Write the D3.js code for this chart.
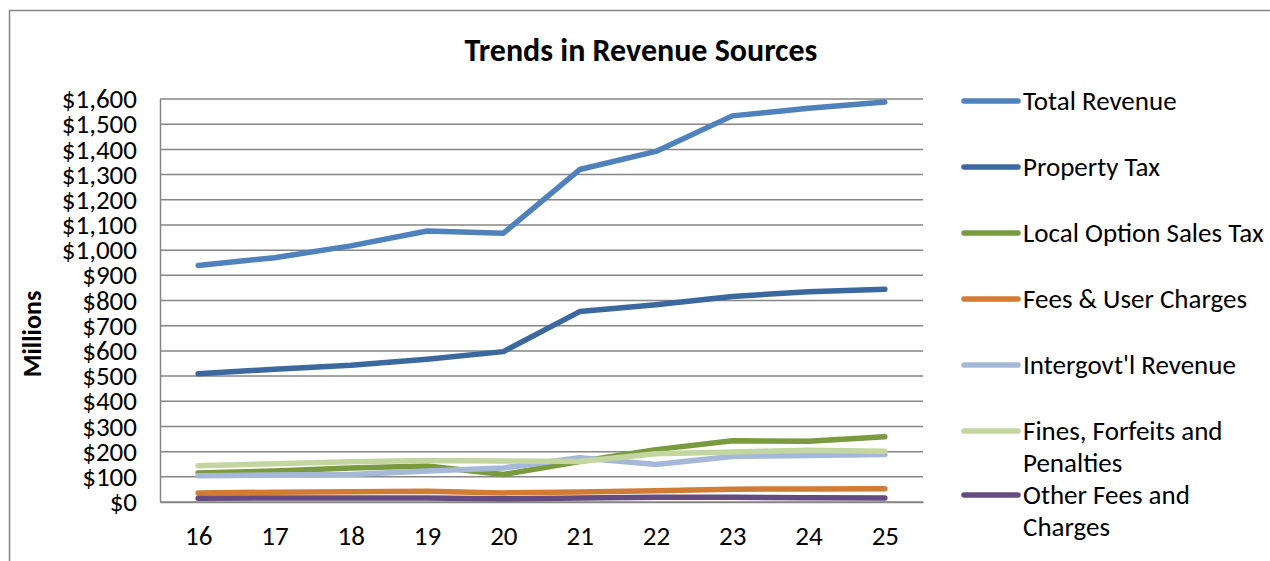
<!DOCTYPE html>
<html>
<head>
<meta charset="utf-8">
<script src="https://cdn.jsdelivr.net/npm/d3@7"></script>
<style>
  body { margin: 0; background: #fff; }
  text { font-family: Calibri, Carlito, "Noto Sans", sans-serif; fill: #000; }
</style>
</head>
<body>
<div id="chart"></div>
<script>
// chart data
var years = ["16", "17", "18", "19", "20", "21", "22", "23", "24", "25"];
var seriesNames = ["Total Revenue", "Property Tax", "Local Option Sales Tax", "Fees & User Charges",
  "Intergovt'l Revenue", "Fines, Forfeits and Penalties", "Other Fees and Charges"];
var totalRevenue = [939, 970, 1017, 1076, 1067, 1320, 1392, 1533, 1563, 1588];
var propertyTax = [509, 527, 543, 567, 597, 756, 783, 816, 835, 845];
var salesTax = [115, 123, 135, 143, 109, 161, 208, 243, 241, 259];
var feesCharges = [36, 39, 41, 43, 36, 40, 45, 51, 52, 53];
var intergovt = [104, 107, 109, 123, 135, 176, 149, 181, 185, 189];
var fines = [144, 152, 160, 165, 163, 161, 192, 199, 205, 201];
var otherFees = [15, 16, 16, 16, 13, 16, 19, 19, 17, 16];
var yTicks = d3.range(0, 1601, 100);

var allSeries = [totalRevenue, propertyTax, salesTax, feesCharges, intergovt, fines, otherFees];
var colors = ["#4f81bd", "#3c68a0", "#7a9a3e", "#d27b35", "#a5b8d8", "#c4d6a0", "#644c80"];

var svgWidth = 1270;
var svgHeight = 561;

var margin = { top: 99, right: 347, bottom: 59, left: 160 };
var width = svgWidth - margin.left - margin.right;
var height = svgHeight - margin.top - margin.bottom;

var svg = d3.select("#chart")
  .append("svg")
  .attr("width", svgWidth)
  .attr("height", svgHeight);

// outer chart border
svg.append("rect")
  .attr("x", 9.5).attr("y", 10.5)
  .attr("width", 1270).attr("height", 560)
  .attr("fill", "none")
  .attr("stroke", "#878787")
  .attr("stroke-width", 1.5);

var chartGroup = svg.append("g")
  .attr("transform", `translate(${margin.left}, ${margin.top})`);

var xScale = d3.scalePoint()
  .domain(years)
  .range([0, width])
  .padding(0.5);

var yScale = d3.scaleLinear()
  .domain([0, 1600])
  .range([height, 0]);

// gridlines
chartGroup.selectAll(".grid")
  .data(yTicks)
  .enter()
  .append("line")
  .attr("x1", 0).attr("x2", width)
  .attr("y1", d => yScale(d)).attr("y2", d => yScale(d))
  .attr("stroke", "#868686")
  .attr("stroke-width", 1.5);

// y axis
var leftAxis = d3.axisLeft(yScale)
  .tickValues(yTicks)
  .tickSize(0)
  .tickPadding(23)
  .tickFormat(d => "$" + d3.format(",")(d));
var yAxisG = chartGroup.append("g").call(leftAxis);
yAxisG.select(".domain").attr("stroke", "#868686").attr("stroke-width", 1.5);
yAxisG.selectAll("text").attr("font-size", 27).style("font-family", null);

// x axis
var bottomAxis = d3.axisBottom(xScale).tickSize(0).tickPadding(24);
var xAxisG = chartGroup.append("g")
  .attr("transform", `translate(0, ${height})`)
  .call(bottomAxis);
xAxisG.select(".domain").attr("stroke", "#868686").attr("stroke-width", 1.5);
xAxisG.selectAll("text").attr("font-size", 27).style("font-family", null);

// lines
var line = d3.line()
  .x((d, i) => xScale(years[i]))
  .y(d => yScale(d));

allSeries.forEach(function(values, i) {
  chartGroup.append("path")
    .datum(values)
    .attr("fill", "none")
    .attr("stroke", colors[i])
    .attr("stroke-width", 5.5)
    .attr("stroke-linecap", "round")
    .attr("stroke-linejoin", "round")
    .attr("d", line);
});

// title
svg.append("text")
  .attr("x", 641)
  .attr("y", 61)
  .attr("text-anchor", "middle")
  .attr("font-size", 32)
  .attr("font-weight", "bold")
  .text("Trends in Revenue Sources");

// y label
svg.append("text")
  .attr("transform", "rotate(-90)")
  .attr("x", -334)
  .attr("y", 41)
  .attr("text-anchor", "middle")
  .attr("font-size", 26)
  .attr("font-weight", "bold")
  .text("Millions");

// legend
var legendRows = [101, 167, 233, 299, 365, 431, 495];
var legend = svg.append("g");
seriesNames.forEach(function(name, i) {
  var y = legendRows[i];
  legend.append("line")
    .attr("x1", 964).attr("x2", 1018)
    .attr("y1", y).attr("y2", y)
    .attr("stroke", colors[i])
    .attr("stroke-width", 5.5)
    .attr("stroke-linecap", "round");
  var words = name.indexOf("Fines") === 0 ? ["Fines, Forfeits and", "Penalties"]
    : name.indexOf("Other") === 0 ? ["Other Fees and", "Charges"] : [name];
  var t = legend.append("text")
    .attr("x", 1023)
    .attr("y", y + 9)
    .attr("font-size", 27);
  words.forEach(function(w, j) {
    t.append("tspan").attr("x", 1023).attr("dy", j === 0 ? 0 : 32).text(w);
  });
});
</script>
</body>
</html>
